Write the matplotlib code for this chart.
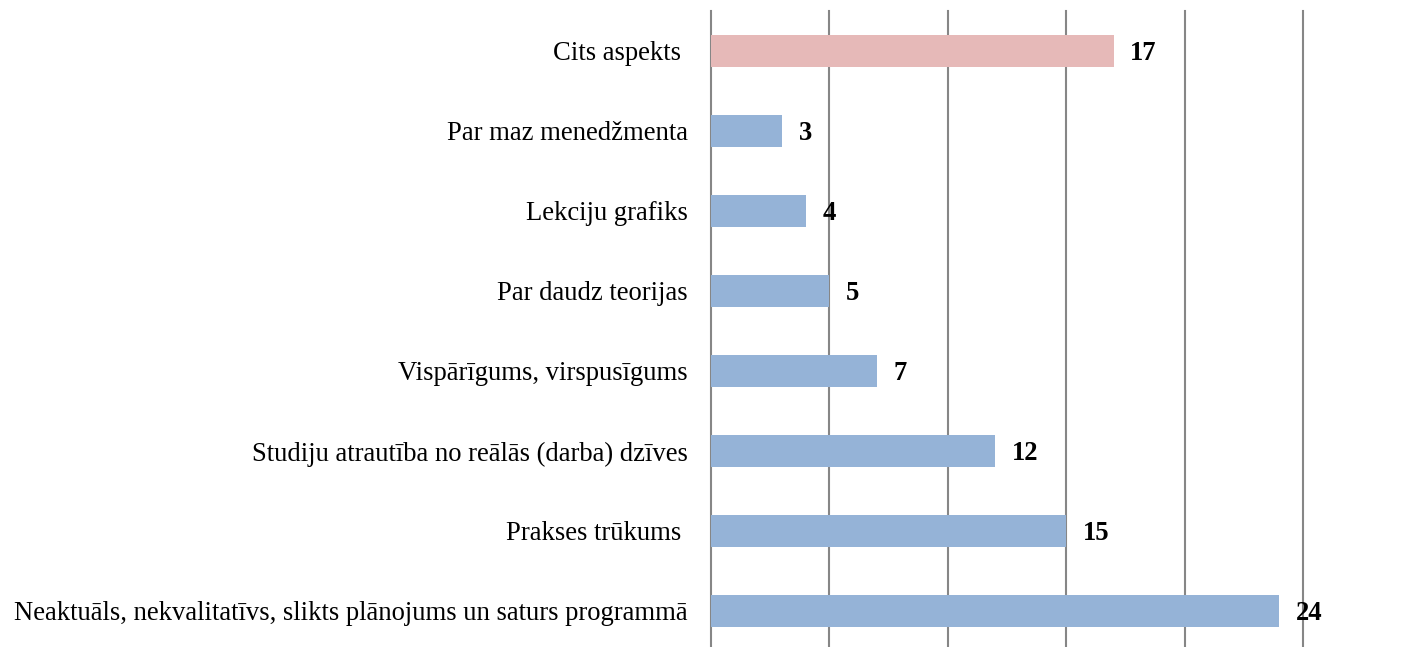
import matplotlib.pyplot as plt

categories = ['Neaktuāls, nekvalitatīvs, slikts plānojums un saturs programmā',
              'Prakses trūkums ',
              'Studiju atrautība no reālās (darba) dzīves',
              'Vispārīgums, virspusīgums',
              'Par daudz teorijas',
              'Lekciju grafiks',
              'Par maz menedžmenta',
              'Cits aspekts ']
values = [24, 15, 12, 7, 5, 4, 3, 17]
colors = ['#95B3D7'] * 7 + ['#E6B9B8']

plt.rcParams['font.family'] = ['Liberation Serif', 'DejaVu Serif']

fig = plt.figure(figsize=(14.07, 6.47), dpi=100)
ax = fig.add_axes([711 / 1407, 0, 592 / 1407, 636 / 647])

pos = range(len(categories))
ax.barh(pos, values, height=0.4, color=colors, zorder=3)
for p, v in zip(pos, values):
    ax.text(v + 0.7, p - 0.03, str(v), va='center', ha='left', fontsize=19.2,
            fontweight='bold', zorder=4)

ax.set_xlim(0, 25)
ax.set_ylim(-0.45, 7.5)
ax.set_xticks([0, 5, 10, 15, 20, 25])
ax.set_xticklabels([])
ax.tick_params(axis='x', length=0)
ax.set_yticks(list(pos))
ax.set_yticklabels(categories, fontsize=19.2)
ax.tick_params(axis='y', length=0, pad=16.5)
for s in ax.spines.values():
    s.set_visible(False)
for x in [0, 5, 10, 15, 20, 25]:
    ax.axvline(x, color='#868686', lw=1.5, zorder=1, clip_on=False)

fig.savefig('out.png', dpi=100)
